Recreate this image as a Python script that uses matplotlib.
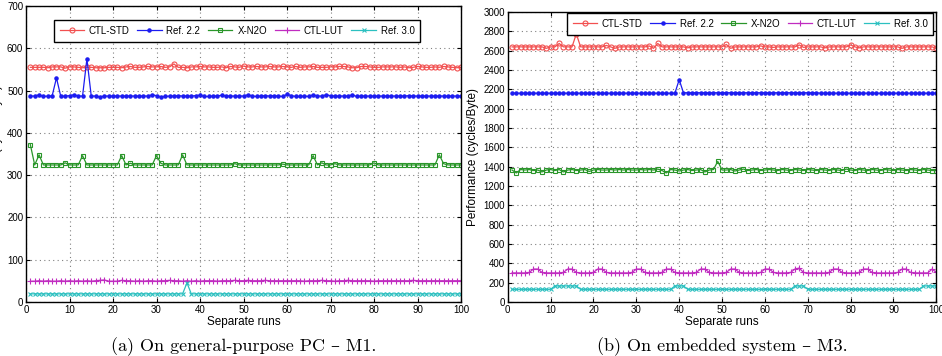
import matplotlib
matplotlib.use('Agg')
import matplotlib.pyplot as plt
import numpy as np

plt.rcParams['font.family'] = ['Liberation Sans', 'DejaVu Sans']

runs = list(range(1, 101))
labels = ['CTL-STD', 'Ref. 2.2', 'X-N2O', 'CTL-LUT', 'Ref. 3.0']

# (a) general-purpose PC - M1
ctl_std_a = [555, 555, 555, 555, 554, 556, 556, 556, 553, 556,
             556, 555, 554, 555, 555, 554, 554, 554, 555, 555,
             555, 554, 556, 557, 555, 555, 556, 557, 556, 556,
             557, 555, 556, 563, 555, 555, 554, 556, 556, 557,
             556, 556, 555, 555, 556, 554, 557, 556, 555, 558,
             556, 556, 557, 556, 556, 557, 556, 556, 557, 556,
             555, 557, 555, 556, 556, 557, 555, 555, 555, 556,
             556, 557, 557, 556, 554, 554, 557, 557, 556, 555,
             555, 556, 556, 556, 556, 555, 556, 554, 555, 557,
             556, 555, 555, 556, 555, 557, 556, 555, 554, 555]
ref22_a = [487, 487, 490, 486, 487, 487, 530, 486, 487, 488,
           490, 487, 487, 575, 487, 487, 485, 487, 487, 487,
           487, 487, 487, 487, 487, 487, 487, 487, 490, 488,
           485, 486, 487, 487, 488, 487, 487, 487, 488, 489,
           486, 486, 487, 487, 489, 487, 487, 487, 487, 487,
           490, 487, 486, 487, 488, 487, 488, 487, 486, 491,
           488, 486, 486, 487, 486, 490, 487, 487, 490, 488,
           487, 487, 487, 487, 490, 486, 487, 487, 487, 487,
           487, 487, 487, 487, 487, 487, 487, 488, 487, 487,
           487, 487, 487, 487, 487, 487, 487, 487, 487, 487]
xn2o_a = [372, 324, 348, 324, 324, 324, 324, 324, 329, 324,
          324, 324, 346, 324, 324, 324, 324, 324, 324, 324,
          324, 346, 324, 328, 324, 324, 324, 324, 324, 346,
          328, 324, 324, 324, 324, 348, 324, 324, 324, 324,
          324, 324, 324, 324, 324, 324, 324, 327, 324, 324,
          324, 324, 324, 324, 324, 324, 324, 324, 326, 324,
          324, 324, 324, 324, 324, 346, 324, 329, 324, 324,
          327, 324, 324, 324, 324, 324, 324, 324, 324, 329,
          324, 324, 324, 324, 324, 324, 324, 324, 324, 324,
          324, 324, 324, 324, 348, 327, 324, 324, 324, 324]
ctl_lut_a = [49, 49, 50, 49, 50, 49, 49, 50, 49, 50,
             49, 50, 49, 50, 49, 50, 51, 52, 49, 49,
             49, 51, 50, 50, 49, 50, 49, 50, 50, 49,
             50, 50, 51, 50, 50, 49, 50, 49, 50, 49,
             50, 50, 50, 49, 50, 50, 50, 51, 50, 50,
             51, 50, 50, 50, 51, 50, 50, 50, 50, 50,
             50, 50, 50, 49, 50, 50, 50, 51, 50, 50,
             49, 50, 50, 51, 50, 50, 50, 50, 50, 49,
             50, 50, 50, 50, 50, 50, 50, 50, 51, 50,
             50, 50, 50, 50, 50, 50, 50, 50, 50, 50]
ref30_a = [19, 19, 19, 19, 19, 19, 19, 19, 19, 19,
           19, 19, 19, 19, 19, 19, 19, 19, 19, 19,
           19, 19, 19, 19, 19, 19, 19, 19, 19, 19,
           19, 19, 19, 19, 19, 19, 45, 19, 19, 19,
           19, 19, 19, 19, 19, 19, 19, 19, 19, 19,
           19, 19, 19, 19, 19, 19, 19, 19, 19, 19,
           19, 19, 19, 19, 19, 19, 19, 19, 19, 19,
           19, 19, 19, 19, 19, 19, 19, 19, 19, 19,
           19, 19, 19, 19, 19, 19, 19, 19, 19, 19,
           19, 19, 19, 19, 19, 19, 19, 19, 19, 19]

# (b) embedded system - M3
ctl_std_b = [2640, 2640, 2640, 2640, 2640, 2640, 2640, 2640, 2625, 2640,
             2640, 2675, 2640, 2640, 2640, 2775, 2640, 2640, 2640, 2640,
             2640, 2640, 2655, 2640, 2625, 2640, 2640, 2640, 2640, 2640,
             2640, 2640, 2650, 2625, 2675, 2640, 2640, 2640, 2640, 2640,
             2640, 2630, 2640, 2640, 2640, 2640, 2640, 2640, 2640, 2640,
             2665, 2625, 2640, 2640, 2640, 2640, 2640, 2640, 2650, 2640,
             2640, 2635, 2640, 2640, 2640, 2640, 2640, 2660, 2635, 2640,
             2640, 2640, 2640, 2630, 2640, 2640, 2640, 2640, 2640, 2660,
             2640, 2630, 2640, 2640, 2640, 2640, 2640, 2640, 2640, 2640,
             2640, 2625, 2640, 2640, 2640, 2640, 2640, 2640, 2640, 2625]
ref22_b = [2160, 2160, 2160, 2160, 2160, 2160, 2160, 2160, 2160, 2160,
           2160, 2160, 2160, 2160, 2160, 2160, 2160, 2160, 2160, 2160,
           2160, 2160, 2160, 2160, 2160, 2160, 2160, 2160, 2160, 2160,
           2160, 2160, 2160, 2160, 2160, 2160, 2160, 2160, 2160, 2300,
           2165, 2165, 2165, 2165, 2165, 2165, 2165, 2165, 2165, 2165,
           2165, 2165, 2165, 2165, 2165, 2165, 2165, 2165, 2165, 2165,
           2165, 2165, 2165, 2165, 2165, 2165, 2165, 2165, 2165, 2165,
           2165, 2165, 2160, 2160, 2160, 2160, 2160, 2160, 2160, 2160,
           2160, 2160, 2160, 2160, 2160, 2160, 2160, 2160, 2160, 2160,
           2160, 2160, 2160, 2160, 2160, 2160, 2160, 2160, 2160, 2160]
xn2o_b = [1365, 1335, 1370, 1365, 1370, 1360, 1365, 1345, 1365, 1370,
          1360, 1370, 1345, 1365, 1370, 1360, 1365, 1370, 1350, 1365,
          1370, 1365, 1365, 1370, 1365, 1370, 1365, 1370, 1365, 1365,
          1370, 1365, 1370, 1365, 1375, 1360, 1335, 1370, 1365, 1355,
          1365, 1370, 1360, 1365, 1370, 1345, 1365, 1370, 1455, 1365,
          1365, 1370, 1355, 1365, 1375, 1360, 1365, 1370, 1360, 1365,
          1370, 1365, 1360, 1370, 1365, 1360, 1370, 1365, 1360, 1370,
          1365, 1360, 1370, 1365, 1360, 1370, 1365, 1360, 1375, 1365,
          1360, 1370, 1365, 1360, 1370, 1365, 1360, 1370, 1365, 1360,
          1370, 1365, 1360, 1370, 1365, 1360, 1370, 1365, 1360, 1360]
ctl_lut_b = [300, 300, 300, 300, 305, 340, 340, 305, 300, 300,
             300, 300, 305, 340, 340, 305, 300, 300, 300, 305,
             340, 340, 305, 300, 300, 300, 300, 300, 305, 340,
             340, 305, 300, 300, 300, 305, 340, 340, 305, 300,
             300, 300, 300, 305, 340, 340, 305, 300, 300, 300,
             305, 340, 340, 305, 300, 300, 300, 300, 305, 340,
             340, 305, 300, 300, 300, 305, 340, 350, 305, 300,
             300, 300, 300, 300, 305, 340, 340, 305, 300, 300,
             300, 305, 340, 340, 305, 300, 300, 300, 300, 300,
             305, 340, 340, 305, 300, 300, 300, 300, 340, 305]
ref30_b = [130, 130, 130, 130, 130, 130, 130, 130, 130, 130,
           165, 165, 165, 165, 165, 165, 130, 130, 130, 130,
           130, 130, 130, 130, 130, 130, 130, 130, 130, 130,
           130, 130, 130, 130, 130, 130, 130, 130, 165, 165,
           165, 130, 130, 130, 130, 130, 130, 130, 130, 130,
           130, 130, 130, 130, 130, 130, 130, 130, 130, 130,
           130, 130, 130, 130, 130, 130, 165, 165, 165, 130,
           130, 130, 130, 130, 130, 130, 130, 130, 130, 130,
           130, 130, 130, 130, 130, 130, 130, 130, 130, 130,
           130, 130, 130, 130, 130, 130, 165, 165, 165, 165]

styles = [dict(color='#f25050', marker='o', mfc='none', ms=3.6, mew=0.8),
          dict(color='#1c1cf0', marker='.', ms=4.5),
          dict(color='#2a962a', marker='s', mfc='none', ms=3, mew=0.8),
          dict(color='#c02cc0', marker='+', ms=4.2, mew=0.8),
          dict(color='#2cc0c0', marker='x', ms=2.8, mew=0.8)]

fig = plt.figure(figsize=(9.42, 3.56), dpi=100)
ax1 = fig.add_axes([0.0276, 0.152, 0.4618, 0.831])
ax2 = fig.add_axes([0.539, 0.152, 0.455, 0.814])

panels = [(ax1, [ctl_std_a, ref22_a, xn2o_a, ctl_lut_a, ref30_a], 700, 100,
           '(a) On general-purpose PC – M1.'),
          (ax2, [ctl_std_b, ref22_b, xn2o_b, ctl_lut_b, ref30_b], 3000, 200,
           '(b) On embedded system – M3.')]

for ax, series, ymax, ystep, caption in panels:
    for vals, lab, st in zip(series, labels, styles):
        ax.plot(runs, vals, lw=0.9, label=lab, **st)
    ax.set_xlim(0, 100)
    ax.set_ylim(0, ymax)
    ax.set_xticks(range(0, 101, 10))
    ax.set_yticks(range(0, ymax + 1, ystep))
    ax.tick_params(direction='in', top=True, right=True, labelsize=7, length=3, pad=2)
    ax.grid(True, ls=(0, (1, 3)), c='0.5', lw=0.8)
    ax.set_xlabel('Separate runs', fontsize=8.5, labelpad=1)
    ax.set_ylabel('Performance (cycles/Byte)', fontsize=8.5, labelpad=3)
    for sp in ax.spines.values():
        sp.set_linewidth(1.0)
    bb = ax.get_position()
    fig.text((bb.x0 + bb.x1) / 2, 0.025, caption, ha='center', va='center',
             fontsize=13, family=['cmr10', 'DejaVu Serif'])

legend_opts = dict(ncol=5, fontsize=7, fancybox=False, edgecolor='black', framealpha=1,
                   handlelength=2.5, handletextpad=0.5, columnspacing=0.8,
                   borderpad=0.6, borderaxespad=0)
leg1 = ax1.legend(loc='upper center', bbox_to_anchor=(0.485, 0.953), **legend_opts)
leg2 = ax2.legend(loc='upper right', bbox_to_anchor=(0.993, 0.997), **legend_opts)
for leg in (leg1, leg2):
    leg.get_frame().set_linewidth(1.0)

fig.savefig('out.png', dpi=100)
